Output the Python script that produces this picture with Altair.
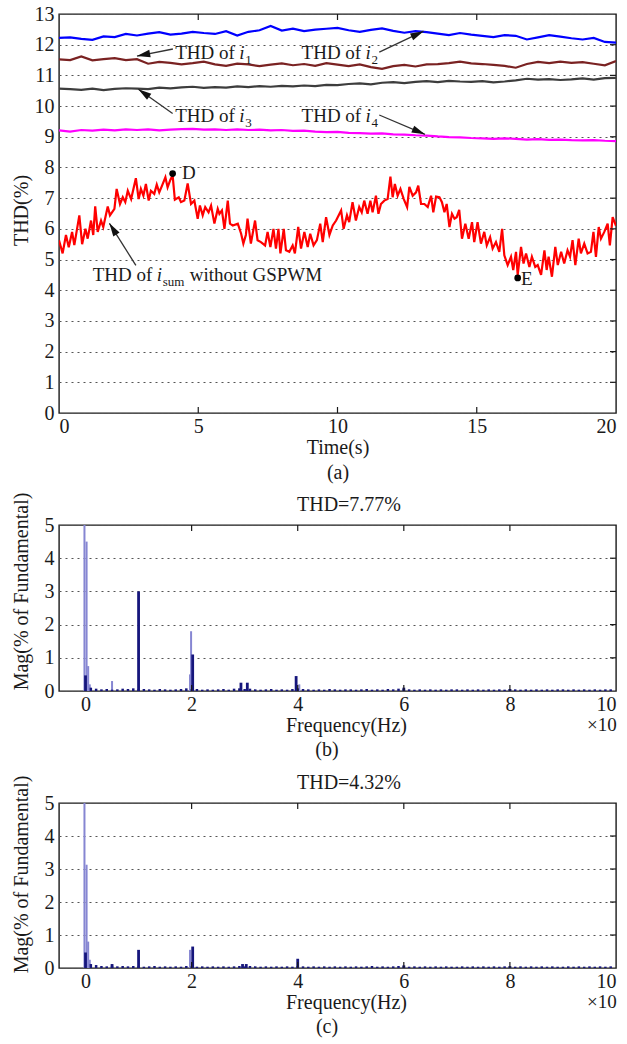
import math
import altair as alt
import pandas as pd

FONT = "Liberation Serif"
FS = 20
FS_ANN = 19
INK = "#1a1a1a"
GRID = "#555555"

W = 557
HA = 399
HB = 166
HC = 165

# ---------------- panel (a) data ----------------
T_GRID = [0.0, 0.4, 0.8, 1.2, 1.6, 2.0, 2.4, 2.8, 3.2, 3.6, 4.0, 4.4, 4.8, 5.2, 5.6, 6.0,
          6.4, 6.8, 7.2, 7.6, 8.0, 8.4, 8.8, 9.2, 9.6, 10.0, 10.4, 10.8, 11.2, 11.6, 12.0,
          12.4, 12.8, 13.2, 13.6, 14.0, 14.4, 14.8, 15.2, 15.6, 16.0, 16.4, 16.8, 17.2,
          17.6, 18.0, 18.4, 18.8, 19.2, 19.6, 20.0]

THD_I2 = [12.22, 12.24, 12.19, 12.16, 12.27, 12.25, 12.35, 12.30, 12.36, 12.41, 12.33,
          12.36, 12.42, 12.38, 12.35, 12.44, 12.30, 12.42, 12.47, 12.61, 12.46, 12.52,
          12.44, 12.49, 12.52, 12.55, 12.47, 12.42, 12.48, 12.53, 12.45, 12.39, 12.44,
          12.41, 12.36, 12.31, 12.38, 12.33, 12.29, 12.25, 12.31, 12.29, 12.17, 12.24,
          12.31, 12.26, 12.21, 12.17, 12.22, 12.09, 12.07]
THD_I1 = [11.52, 11.50, 11.62, 11.49, 11.53, 11.56, 11.50, 11.53, 11.38, 11.44, 11.41,
          11.36, 11.40, 11.45, 11.36, 11.31, 11.38, 11.36, 11.30, 11.35, 11.39, 11.33,
          11.37, 11.31, 11.40, 11.35, 11.30, 11.36, 11.27, 11.21, 11.30, 11.34, 11.29,
          11.36, 11.37, 11.40, 11.45, 11.39, 11.37, 11.34, 11.31, 11.25, 11.37, 11.44,
          11.40, 11.45, 11.41, 11.43, 11.38, 11.33, 11.47]
THD_I3 = [10.57, 10.55, 10.53, 10.57, 10.52, 10.56, 10.58, 10.57, 10.55, 10.60, 10.58,
          10.61, 10.63, 10.59, 10.62, 10.60, 10.64, 10.62, 10.65, 10.63, 10.66, 10.64,
          10.67, 10.65, 10.69, 10.68, 10.72, 10.74, 10.71, 10.76, 10.78, 10.75, 10.79,
          10.81, 10.78, 10.82, 10.80, 10.79, 10.81, 10.77, 10.80, 10.84, 10.89, 10.86,
          10.88, 10.85, 10.87, 10.90, 10.86, 10.91, 10.92]
THD_I4 = [9.21, 9.17, 9.22, 9.20, 9.23, 9.21, 9.24, 9.22, 9.24, 9.21, 9.23, 9.25, 9.26,
          9.23, 9.24, 9.22, 9.24, 9.22, 9.23, 9.21, 9.22, 9.19, 9.20, 9.17, 9.15, 9.16,
          9.13, 9.12, 9.10, 9.11, 9.08, 9.07, 9.05, 9.04, 9.01, 8.99, 8.98, 8.96, 8.95,
          8.93, 8.95, 8.93, 8.91, 8.92, 8.90, 8.91, 8.89, 8.88, 8.89, 8.87, 8.86]

SUM_T = [0.00, 0.13, 0.25, 0.35, 0.47, 0.55, 0.73, 0.83, 0.95, 1.03, 1.15, 1.23, 1.30,
         1.39, 1.51, 1.59, 1.75, 1.83, 1.99, 2.07, 2.19, 2.29, 2.38, 2.47, 2.59, 2.76,
         2.86, 2.94, 3.03, 3.12, 3.22, 3.30, 3.42, 3.51, 3.60, 3.70, 3.82, 3.90, 4.00,
         4.08, 4.16, 4.30, 4.38, 4.50, 4.62, 4.74, 4.86, 4.98, 5.06, 5.16, 5.25, 5.37,
         5.46, 5.58, 5.70, 5.76, 5.85, 5.94, 6.06, 6.14, 6.24, 6.42, 6.54, 6.62, 6.71,
         6.77, 6.89, 7.04, 7.13, 7.25, 7.40, 7.49, 7.59, 7.70, 7.79, 7.88, 7.95, 8.07,
         8.15, 8.27, 8.39, 8.47, 8.59, 8.69, 8.81, 8.93, 9.02, 9.14, 9.26, 9.38, 9.47,
         9.59, 9.71, 9.83, 9.95, 10.13, 10.22, 10.34, 10.42, 10.54, 10.66, 10.78, 10.87,
         10.96, 11.08, 11.18, 11.26, 11.38, 11.47, 11.56, 11.68, 11.80, 11.90, 11.98,
         12.06, 12.16, 12.26, 12.38, 12.50, 12.58, 12.70, 12.82, 12.90, 13.00, 13.12,
         13.24, 13.36, 13.44, 13.54, 13.66, 13.75, 13.84, 13.92, 14.02, 14.11, 14.20,
         14.28, 14.37, 14.47, 14.59, 14.71, 14.83, 14.91, 15.03, 15.15, 15.27, 15.36,
         15.48, 15.57, 15.69, 15.81, 15.91, 15.99, 16.11, 16.23, 16.31, 16.41, 16.47,
         16.59, 16.68, 16.77, 16.89, 16.98, 17.10, 17.19, 17.31, 17.43, 17.51, 17.58,
         17.70, 17.82, 17.91, 18.03, 18.14, 18.26, 18.35, 18.44, 18.54, 18.66, 18.74,
         18.86, 18.98, 19.10, 19.19, 19.28, 19.38, 19.46, 19.58, 19.70, 19.78, 19.88,
         20.00]
SUM_V = [5.63, 5.20, 5.80, 5.40, 5.90, 5.47, 6.44, 5.50, 6.00, 5.68, 6.27, 5.80, 6.73,
         5.90, 6.27, 6.06, 6.73, 6.44, 6.65, 7.30, 6.81, 7.03, 6.87, 7.24, 6.97, 7.65,
         6.97, 7.30, 7.08, 7.46, 6.92, 7.24, 7.14, 7.44, 7.19, 7.41, 7.68, 7.35, 7.60,
         7.74, 6.95, 7.03, 6.87, 6.92, 7.48, 6.81, 6.92, 6.33, 6.76, 6.44, 6.71, 6.54,
         6.76, 6.17, 6.65, 6.49, 6.60, 6.00, 6.92, 6.17, 6.11, 6.17, 5.84, 5.52, 5.80,
         6.33, 5.52, 6.27, 5.63, 5.57, 5.46, 5.90, 5.41, 6.00, 5.36, 6.00, 5.20, 6.00,
         5.30, 5.25, 5.46, 5.20, 6.06, 5.36, 5.90, 5.41, 5.84, 5.46, 5.63, 6.17, 5.57,
         6.38, 5.80, 6.11, 6.27, 6.60, 6.00, 6.44, 6.22, 6.87, 6.27, 6.71, 6.54, 6.92,
         6.49, 6.92, 6.54, 7.08, 6.49, 6.81, 6.92, 6.97, 7.70, 7.03, 7.46, 7.08, 7.30,
         6.97, 6.71, 7.37, 7.08, 7.19, 7.41, 6.81, 6.81, 6.71, 7.08, 6.54, 7.05, 7.03,
         6.87, 6.54, 6.81, 6.06, 6.49, 6.33, 6.38, 6.62, 5.68, 6.17, 5.68, 6.22, 5.57,
         6.22, 5.52, 5.90, 5.46, 5.73, 5.36, 5.57, 5.25, 6.00, 5.14, 4.82, 5.09, 4.66,
         5.25, 4.50, 5.41, 4.87, 5.20, 4.76, 5.09, 4.76, 4.82, 4.50, 5.30, 4.66, 5.09,
         4.44, 5.41, 4.82, 5.25, 4.87, 5.30, 5.09, 5.63, 4.82, 5.68, 5.20, 5.52, 5.20,
         5.25, 5.90, 5.09, 6.06, 5.68, 5.90, 6.17, 5.46, 6.38, 6.10]

SERIES = ["i2", "i1", "i3", "i4", "sum"]
SERIES_COLORS = ["#0000ff", "#7a2222", "#3d3d3d", "#ff00ff", "#ff0000"]

X_TICKS_A = [0, 5, 10, 15, 20]
Y_TICKS_A = list(range(14))

ARROW_T0 = [4.09, 11.50, 4.08, 11.50, 2.76]
ARROW_V0 = [11.86, 11.76, 9.76, 9.71, 4.81]
ARROW_T1 = [2.80, 13.09, 2.85, 13.14, 1.81]
ARROW_V1 = [11.63, 12.44, 10.55, 9.08, 6.18]

LABEL_T = [4.17, 8.71, 4.17, 8.71, 1.21]
LABEL_V = [11.52, 11.52, 9.49, 9.49, 4.29]
LABEL_SUB = ["1", "2", "3", "4", "sum"]

POINT_NAMES = ["D", "E"]
POINT_T = [4.08, 16.47]
POINT_V = [7.80, 4.40]
POINT_LABEL_T = [4.42, 16.59]
POINT_LABEL_V = [7.61, 4.18]

# ---------------- panels (b), (c) data ----------------
SPEC_X_TICKS = [0, 2, 4, 6, 8, 10]
SPEC_Y_TICKS = [0, 1, 2, 3, 4, 5]
NOISE_F = [round(0.1 * k, 1) for k in range(1, 100)]

B_LIGHT_F = [-0.02, 0.02, 0.05, 0.08, 0.50, 1.97, 1.99, 4.03]
B_LIGHT_M = [5.10, 4.50, 0.75, 0.20, 0.30, 0.50, 1.80, 0.20]
B_DARK_F = [0.00, 1.00, 2.02, 2.93, 3.05, 3.97, 6.00, 8.00]
B_DARK_M = [0.47, 3.00, 1.10, 0.25, 0.25, 0.45, 0.10, 0.06]
B_NOISE_M = [0.10, 0.07, 0.05, 0.06, 0.04, 0.05, 0.07, 0.06, 0.08,
             0.05, 0.06, 0.05, 0.04, 0.06, 0.05, 0.04, 0.05, 0.06, 0.08,
             0.05, 0.06, 0.04, 0.05, 0.04, 0.05, 0.06, 0.04, 0.07, 0.08,
             0.06, 0.07, 0.05, 0.04, 0.05, 0.06, 0.04, 0.05, 0.04, 0.06,
             0.08, 0.06, 0.05, 0.04, 0.05, 0.04, 0.06, 0.05, 0.04, 0.05,
             0.05, 0.04, 0.05, 0.06, 0.04, 0.05, 0.04, 0.06, 0.05, 0.07,
             0.06, 0.05, 0.04, 0.05, 0.04, 0.05, 0.04, 0.05, 0.04, 0.05,
             0.05, 0.04, 0.05, 0.04, 0.05, 0.04, 0.05, 0.04, 0.05, 0.04,
             0.06, 0.05, 0.04, 0.05, 0.04, 0.05, 0.04, 0.05, 0.04, 0.05,
             0.05, 0.04, 0.05, 0.04, 0.05, 0.04, 0.05, 0.04, 0.05, 0.05]

C_LIGHT_F = [-0.02, 0.02, 0.05, 0.08, 1.97]
C_LIGHT_M = [5.10, 3.13, 0.80, 0.25, 0.55]
C_DARK_F = [0.00, 0.50, 1.00, 2.02, 2.96, 3.03, 4.00, 6.00, 8.00]
C_DARK_M = [0.47, 0.12, 0.55, 0.65, 0.12, 0.12, 0.28, 0.08, 0.05]
C_NOISE_M = [0.12, 0.09, 0.06, 0.05, 0.07, 0.05, 0.06, 0.05, 0.06,
             0.05, 0.04, 0.05, 0.06, 0.04, 0.05, 0.04, 0.05, 0.04, 0.06,
             0.05, 0.04, 0.05, 0.04, 0.05, 0.04, 0.05, 0.04, 0.05, 0.06,
             0.05, 0.06, 0.05, 0.04, 0.05, 0.04, 0.05, 0.04, 0.05, 0.04,
             0.06, 0.05, 0.04, 0.05, 0.04, 0.05, 0.04, 0.05, 0.04, 0.05,
             0.04, 0.05, 0.04, 0.05, 0.06, 0.04, 0.05, 0.04, 0.05, 0.06,
             0.05, 0.04, 0.05, 0.04, 0.05, 0.04, 0.05, 0.04, 0.05, 0.04,
             0.04, 0.05, 0.04, 0.05, 0.04, 0.05, 0.04, 0.05, 0.04, 0.05,
             0.05, 0.04, 0.05, 0.04, 0.05, 0.04, 0.05, 0.04, 0.05, 0.04,
             0.04, 0.05, 0.04, 0.05, 0.04, 0.05, 0.04, 0.05, 0.04, 0.05]

DARK = "#16167c"
LIGHT = "#8686d2"
TICK_LEN = 6

# ---------------- panel (a) ----------------
rows = []
for name, vals in zip(SERIES[:4], [THD_I2, THD_I1, THD_I3, THD_I4]):
    for t, v in zip(T_GRID, vals):
        rows.append({"t": t, "v": v, "s": name})
for t, v in zip(SUM_T, SUM_V):
    rows.append({"t": t, "v": v, "s": "sum"})
df_a = pd.DataFrame(rows)

xa = alt.X("t:Q", scale=alt.Scale(domain=[0, 20], nice=False, zero=False),
           axis=alt.Axis(values=X_TICKS_A, title=["Time(s)", "(a)"], grid=False))
ya = alt.Y("v:Q", scale=alt.Scale(domain=[0, 13], nice=False, zero=False),
           axis=alt.Axis(values=Y_TICKS_A, title="THD(%)", grid=True, titleY=196))

lines = alt.Chart(df_a).mark_line(strokeWidth=2.2, clip=True).encode(
    x=xa, y=ya,
    color=alt.Color("s:N", scale=alt.Scale(domain=SERIES, range=SERIES_COLORS), legend=None),
)

xt_a = pd.DataFrame({"t": X_TICKS_A[1:-1]})
yt_a = pd.DataFrame({"v": Y_TICKS_A[1:-1]})
tick_a = [
    alt.Chart(xt_a).mark_rule(color=INK, strokeWidth=1.2).encode(x=xa, y=alt.value(HA), y2=alt.value(HA - TICK_LEN)),
    alt.Chart(xt_a).mark_rule(color=INK, strokeWidth=1.2).encode(x=xa, y=alt.value(0), y2=alt.value(TICK_LEN)),
    alt.Chart(yt_a).mark_rule(color=INK, strokeWidth=1.2).encode(y=ya, x=alt.value(W - TICK_LEN), x2=alt.value(W)),
]

sx = W / 20.0
sy = HA / 13.0
arr = pd.DataFrame({"t": ARROW_T0, "v": ARROW_V0, "t2": ARROW_T1, "v2": ARROW_V1})
heads = pd.DataFrame({
    "t": ARROW_T1, "v": ARROW_V1,
    "ang": [(math.degrees(math.atan2((t1 - t0) * sx, (v1 - v0) * sy)) + 360) % 360
            for t0, v0, t1, v1 in zip(ARROW_T0, ARROW_V0, ARROW_T1, ARROW_V1)],
})
arrow_lines = alt.Chart(arr).mark_rule(color="#333333", strokeWidth=1.3).encode(
    x=xa, y=ya, x2="t2:Q", y2="v2:Q")
arrow_heads = alt.Chart(heads).mark_point(
    shape="M0,0L-0.28,1L0.28,1Z", filled=True, size=700, color="#111111", opacity=1, strokeWidth=0
).encode(x=xa, y=ya, angle=alt.Angle("ang:Q", scale=None))

lab = pd.DataFrame({"t": LABEL_T, "v": LABEL_V, "sub": LABEL_SUB,
                    "pre": ["THD of"] * 5, "ii": ["i"] * 5})
lab_pre = alt.Chart(lab).mark_text(align="left", baseline="alphabetic", font=FONT, fontSize=FS_ANN, color=INK).encode(
    x=xa, y=ya, text="pre:N")
lab_i = alt.Chart(lab).mark_text(align="left", baseline="alphabetic", font=FONT, fontSize=FS_ANN, color=INK,
                                 fontStyle="italic", dx=64).encode(x=xa, y=ya, text="ii:N")
lab_sub = alt.Chart(lab).mark_text(align="left", baseline="alphabetic", font=FONT, fontSize=13, color=INK,
                                   dx=70, dy=5).encode(x=xa, y=ya, text="sub:N")
suf = pd.DataFrame({"t": LABEL_T[4:], "v": LABEL_V[4:], "s": ["without GSPWM"]})
lab_suf = alt.Chart(suf).mark_text(align="left", baseline="alphabetic", font=FONT, fontSize=FS_ANN, color=INK,
                                   dx=97).encode(x=xa, y=ya, text="s:N")

pts = pd.DataFrame({"t": POINT_T, "v": POINT_V})
dots = alt.Chart(pts).mark_circle(size=45, color="#000000", opacity=1).encode(x=xa, y=ya)
pl = pd.DataFrame({"t": POINT_LABEL_T, "v": POINT_LABEL_V, "s": POINT_NAMES})
dot_labels = alt.Chart(pl).mark_text(align="left", baseline="alphabetic", font=FONT, fontSize=FS_ANN, color=INK).encode(
    x=xa, y=ya, text="s:N")

panel_a = alt.layer(lines, *tick_a, arrow_lines, arrow_heads, lab_pre, lab_i, lab_sub, lab_suf,
                    dots, dot_labels).properties(width=W, height=HA)


# ---------------- panels (b), (c) ----------------
def spectrum(light_f, light_m, dark_f, dark_m, noise_m, thd, tag, H, title_y):
    xs = alt.X("f:Q", scale=alt.Scale(domain=[-0.5, 10], nice=False, zero=False),
               axis=alt.Axis(values=SPEC_X_TICKS, title="Frequency(Hz)", grid=False, titleX=287))
    ys = alt.Y("m:Q", scale=alt.Scale(domain=[0, 5], nice=False, zero=False),
               axis=alt.Axis(values=SPEC_Y_TICKS, title="Mag(% of Fundamental)", grid=True, titleY=title_y))
    light = alt.Chart(pd.DataFrame({"f": light_f, "m": light_m})).mark_rule(
        color=LIGHT, strokeWidth=2, clip=True).encode(x=xs, y=ys, y2=alt.datum(0))
    noise = alt.Chart(pd.DataFrame({"f": NOISE_F, "m": noise_m})).mark_rule(
        color=DARK, strokeWidth=2.5, clip=True).encode(x=xs, y=ys, y2=alt.datum(0))
    dark = alt.Chart(pd.DataFrame({"f": dark_f, "m": dark_m})).mark_rule(
        color=DARK, strokeWidth=2.8, clip=True).encode(x=xs, y=ys, y2=alt.datum(0))
    xt = pd.DataFrame({"f": SPEC_X_TICKS[1:-1]})
    yt = pd.DataFrame({"m": SPEC_Y_TICKS[1:-1]})
    ticks = [
        alt.Chart(xt).mark_rule(color=INK, strokeWidth=1.2).encode(x=xs, y=alt.value(H), y2=alt.value(H - TICK_LEN)),
        alt.Chart(xt).mark_rule(color=INK, strokeWidth=1.2).encode(x=xs, y=alt.value(0), y2=alt.value(TICK_LEN)),
        alt.Chart(yt).mark_rule(color=INK, strokeWidth=1.2).encode(y=ys, x=alt.value(W - TICK_LEN), x2=alt.value(W)),
    ]
    mult = alt.Chart(pd.DataFrame({"s": ["×10"]})).mark_text(
        align="left", baseline="alphabetic", font=FONT, fontSize=19, color=INK
    ).encode(x=alt.value(528), y=alt.value(H + 40), text="s:N")
    tag_text = alt.Chart(pd.DataFrame({"s": [tag]})).mark_text(
        align="center", baseline="middle", font=FONT, fontSize=FS, color=INK
    ).encode(x=alt.value(268), y=alt.value(H + 59), text="s:N")
    title_text = alt.Chart(pd.DataFrame({"s": [thd]})).mark_text(
        align="center", baseline="middle", font=FONT, fontSize=FS, color=INK
    ).encode(x=alt.value(290), y=alt.value(-20), text="s:N")
    return alt.layer(light, noise, dark, *ticks, mult, tag_text, title_text).properties(
        width=W, height=H)


panel_b = spectrum(B_LIGHT_F, B_LIGHT_M, B_DARK_F, B_DARK_M, B_NOISE_M, "THD=7.77%", "(b)", HB, 66)
panel_c = spectrum(C_LIGHT_F, C_LIGHT_M, C_DARK_F, C_DARK_M, C_NOISE_M, "THD=4.32%", "(c)", HC, 71)

chart = alt.vconcat(panel_a, panel_b, panel_c, spacing=112, bounds="flush").properties(
    padding={"left": 10, "top": 3, "right": 0, "bottom": 0}
).configure(font=FONT).configure_view(
    stroke=INK, strokeWidth=1.4
).configure_axis(
    domain=False, ticks=False, tickSize=0,
    labelFont=FONT, labelFontSize=FS, labelColor=INK, labelPadding=3,
    titleFont=FONT, titleFontSize=FS, titleFontWeight="normal", titleColor=INK,
    titlePadding=1, titleLineHeight=25,
    gridColor=GRID, gridDash=[2, 4], gridWidth=1,
).configure_axisY(
    labelPadding=5, titleX=-38, titleBaseline="middle"
)

chart.save("out.html", embed_options={"renderer": "svg", "actions": False})
